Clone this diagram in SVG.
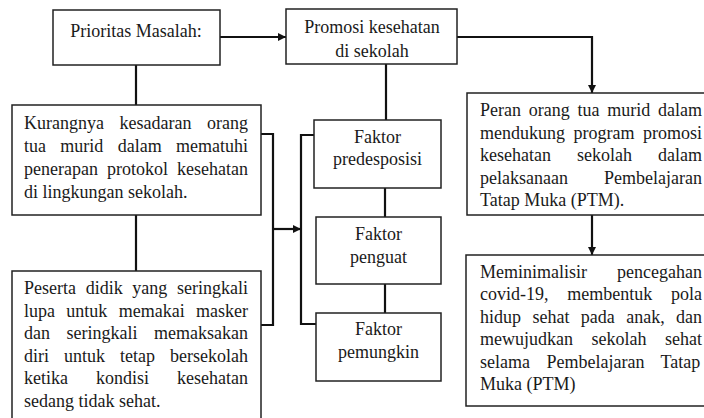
<svg xmlns="http://www.w3.org/2000/svg" width="704" height="418" viewBox="0 0 704 418">
<defs>
<style>
.box{fill:#fff;stroke:#222;stroke-width:1.5}
.c{text-anchor:middle}
.ln{fill:none;stroke:#111;stroke-width:2.2}
</style>
<marker id="ah" viewBox="0 0 10 10" refX="10" refY="5" markerWidth="9" markerHeight="8" markerUnits="userSpaceOnUse" orient="auto">
<path d="M0,0L10,5L0,10z" fill="#111"/>
</marker>
</defs>
<rect width="704" height="418" fill="#fff"/>
<g id="connectors">
<path class="ln" d="M220,37H286" marker-end="url(#ah)"/>
<path class="ln" d="M457,37H592V93" marker-end="url(#ah)"/>
<path class="ln" d="M386,64V120"/>
<path class="ln" d="M385,188V217"/>
<path class="ln" d="M385,284V313"/>
<path class="ln" d="M136,65V105"/>
<path class="ln" d="M136,215V271"/>
<path class="ln" d="M261,134H273V325H261"/>
<path class="ln" d="M273,229H301" marker-end="url(#ah)"/>
<path class="ln" d="M315,135H301V324H316"/>
<path class="ln" d="M592,215V255" marker-end="url(#ah)"/>
</g>
<g id="prioritas">
<rect class="box" x="53" y="10" width="167" height="55"/>
<text class="c" x="136" y="37" style="font-family:'Liberation Serif',serif;font-size:18px;fill:#1a1a1a">Prioritas Masalah:</text>
</g>
<g id="promosi">
<rect class="box" x="286" y="9" width="171" height="55"/>
<text class="c" x="372" y="33" style="font-family:'Liberation Serif',serif;font-size:18px;fill:#1a1a1a">Promosi kesehatan</text>
<text class="c" x="372" y="57" style="font-family:'Liberation Serif',serif;font-size:18px;fill:#1a1a1a">di sekolah</text>
</g>
<g id="kurangnya">
<rect class="box" x="12" y="105" width="249" height="110"/>
<text x="24" y="128.5" word-spacing="11.05" style="font-family:'Liberation Serif',serif;font-size:18px;fill:#1a1a1a">Kurangnya kesadaran orang</text>
<text x="24" y="151.5" word-spacing="9.83" style="font-family:'Liberation Serif',serif;font-size:18px;fill:#1a1a1a">tua murid dalam mematuhi</text>
<text x="24" y="174.5" word-spacing="4.55" style="font-family:'Liberation Serif',serif;font-size:18px;fill:#1a1a1a">penerapan protokol kesehatan</text>
<text x="24" y="197.5" style="font-family:'Liberation Serif',serif;font-size:18px;fill:#1a1a1a">di lingkungan sekolah.</text>
</g>
<g id="peserta">
<rect class="box" x="12" y="271" width="249" height="152"/>
<text x="24" y="294" word-spacing="5.17" style="font-family:'Liberation Serif',serif;font-size:18px;fill:#1a1a1a">Peserta didik yang seringkali</text>
<text x="24" y="316.5" word-spacing="6.84" style="font-family:'Liberation Serif',serif;font-size:18px;fill:#1a1a1a">lupa untuk memakai masker</text>
<text x="24" y="339" word-spacing="12" style="font-family:'Liberation Serif',serif;font-size:18px;fill:#1a1a1a">dan seringkali memaksakan</text>
<text x="24" y="361.5" word-spacing="10.5" style="font-family:'Liberation Serif',serif;font-size:18px;fill:#1a1a1a">diri untuk tetap bersekolah</text>
<text x="24" y="384" word-spacing="23.5" style="font-family:'Liberation Serif',serif;font-size:18px;fill:#1a1a1a">ketika kondisi kesehatan</text>
<text x="24" y="406.5" style="font-family:'Liberation Serif',serif;font-size:18px;fill:#1a1a1a">sedang tidak sehat.</text>
</g>
<g id="faktor-predesposisi">
<rect class="box" x="314" y="120" width="127" height="68"/>
<text class="c" x="377.5" y="143" style="font-family:'Liberation Serif',serif;font-size:18px;fill:#1a1a1a">Faktor</text>
<text class="c" x="377.5" y="165" style="font-family:'Liberation Serif',serif;font-size:18px;fill:#1a1a1a">predesposisi</text>
</g>
<g id="faktor-penguat">
<rect class="box" x="316" y="217" width="125" height="67"/>
<text class="c" x="378.5" y="240" style="font-family:'Liberation Serif',serif;font-size:18px;fill:#1a1a1a">Faktor</text>
<text class="c" x="378.5" y="263" style="font-family:'Liberation Serif',serif;font-size:18px;fill:#1a1a1a">penguat</text>
</g>
<g id="faktor-pemungkin">
<rect class="box" x="316" y="313" width="125" height="68"/>
<text class="c" x="378.5" y="335" style="font-family:'Liberation Serif',serif;font-size:18px;fill:#1a1a1a">Faktor</text>
<text class="c" x="378.5" y="358" style="font-family:'Liberation Serif',serif;font-size:18px;fill:#1a1a1a">pemungkin</text>
</g>
<g id="peran">
<rect class="box" x="467" y="93" width="242" height="122"/>
<text x="480" y="116" word-spacing="3.25" style="font-family:'Liberation Serif',serif;font-size:18px;fill:#1a1a1a">Peran orang tua murid dalam</text>
<text x="480" y="138.5" word-spacing="4" style="font-family:'Liberation Serif',serif;font-size:18px;fill:#1a1a1a">mendukung program promosi</text>
<text x="480" y="161" word-spacing="21.5" style="font-family:'Liberation Serif',serif;font-size:18px;fill:#1a1a1a">kesehatan sekolah dalam</text>
<text x="480" y="183.5" word-spacing="31.5" style="font-family:'Liberation Serif',serif;font-size:18px;fill:#1a1a1a">pelaksanaan Pembelajaran</text>
<text x="480" y="206" style="font-family:'Liberation Serif',serif;font-size:18px;fill:#1a1a1a">Tatap Muka (PTM).</text>
</g>
<g id="meminimalisir">
<rect class="box" x="466" y="255" width="243" height="151"/>
<text x="480" y="277.5" word-spacing="25.5" style="font-family:'Liberation Serif',serif;font-size:18px;fill:#1a1a1a">Meminimalisir pencegahan</text>
<text x="480" y="300" word-spacing="14.25" style="font-family:'Liberation Serif',serif;font-size:18px;fill:#1a1a1a">covid-19, membentuk pola</text>
<text x="480" y="322.5" word-spacing="6.9" style="font-family:'Liberation Serif',serif;font-size:18px;fill:#1a1a1a">hidup sehat pada anak, dan</text>
<text x="480" y="345" word-spacing="14" style="font-family:'Liberation Serif',serif;font-size:18px;fill:#1a1a1a">mewujudkan sekolah sehat</text>
<text x="480" y="367.5" word-spacing="12" style="font-family:'Liberation Serif',serif;font-size:18px;fill:#1a1a1a">selama Pembelajaran Tatap</text>
<text x="480" y="390" style="font-family:'Liberation Serif',serif;font-size:18px;fill:#1a1a1a">Muka (PTM)</text>
</g>
</svg>
